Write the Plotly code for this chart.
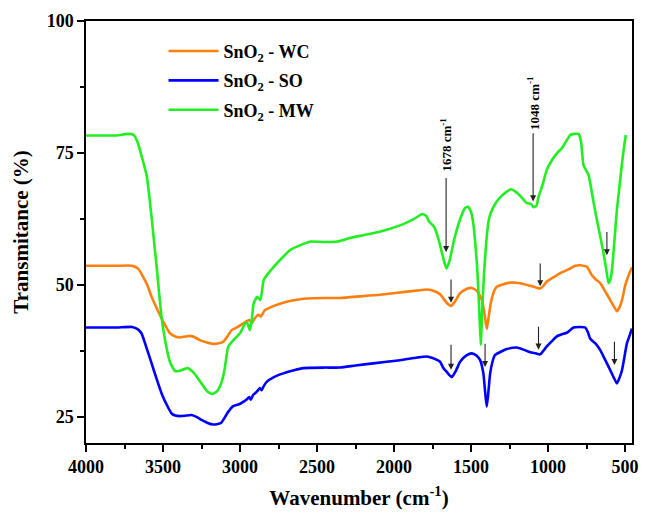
import plotly.graph_objects as go

# ---- data ----
mw_x = [4000, 3900, 3800, 3730, 3690, 3665, 3640, 3605, 3575, 3540, 3510, 3480, 3453, 3420, 3390, 3340, 3300,
        3250, 3210, 3180, 3150, 3120, 3100, 3076, 3040, 3000, 2965, 2950, 2937, 2925, 2911, 2889, 2868, 2846,
        2810, 2781, 2720, 2673, 2600, 2543, 2450, 2369, 2282, 2200, 2087, 1957, 1870, 1816, 1790, 1773, 1740,
        1710, 1680, 1660, 1640, 1610, 1570, 1540, 1520, 1500, 1485, 1470, 1458, 1445, 1437, 1428, 1415, 1400,
        1385, 1372, 1340, 1306, 1270, 1241, 1210, 1176, 1140, 1110, 1095, 1075, 1062, 1040, 1008, 975, 943,
        910, 880, 856, 830, 802, 785, 770, 737, 710, 683, 660, 640, 620, 607, 595, 585, 570, 553, 535, 520,
        505, 495]
mw_y = [78.3, 78.3, 78.3, 78.6, 78.4, 77.0, 74.5, 70.5, 63.0, 53.0, 44.0, 38.5, 35.2, 33.6, 33.7, 34.2, 33.3,
        31.3, 29.7, 29.3, 29.8, 31.5, 34.0, 38.3, 39.6, 40.8, 42.7, 42.6, 41.4, 43.0, 46.5, 47.7, 47.1, 50.9,
        52.4, 53.4, 55.3, 56.6, 57.6, 58.2, 58.1, 58.2, 58.9, 59.4, 60.1, 61.3, 62.5, 63.4, 63.0, 62.0, 61.0,
        58.5, 55.0, 53.1, 54.5, 58.5, 62.5, 64.5, 64.8, 63.8, 61.5, 57.0, 52.2, 44.0, 38.6, 45.0, 52.5, 58.5,
        62.3, 63.6, 65.5, 66.7, 67.6, 68.1, 67.6, 66.7, 65.5, 65.3, 64.7, 65.0, 66.7, 68.5, 71.8, 73.6, 74.9,
        75.9, 77.3, 78.4, 78.6, 78.6, 77.0, 72.7, 70.8, 66.5, 62.3, 59.0, 56.0, 52.5, 50.3, 51.0, 52.8, 58.0,
        64.2, 69.0, 73.0, 76.5, 78.4]

wc_x = [4000, 3900, 3800, 3700, 3660, 3629, 3600, 3574, 3540, 3509, 3480, 3455, 3420, 3390, 3355, 3326, 3290,
        3261, 3220, 3174, 3140, 3109, 3080, 3055, 3020, 2979, 2950, 2936, 2925, 2905, 2882, 2865, 2838, 2780,
        2719, 2640, 2567, 2450, 2351, 2220, 2091, 1917, 1850, 1788, 1750, 1701, 1680, 1655, 1630, 1605, 1571,
        1530, 1495, 1460, 1430, 1415, 1398, 1385, 1372, 1350, 1333, 1290, 1246, 1181, 1116, 1080, 1051, 1030,
        1008, 960, 921, 867, 824, 790, 748, 715, 690, 661, 630, 596, 575, 553, 535, 520, 500, 488, 470, 455]
wc_y = [53.6, 53.6, 53.6, 53.6, 53.0, 51.5, 49.8, 47.7, 45.5, 43.6, 42.0, 40.8, 40.2, 40.0, 40.2, 40.3, 40.0,
        39.5, 39.1, 38.8, 38.9, 39.2, 40.3, 41.4, 41.9, 42.7, 43.2, 43.3, 42.7, 43.6, 44.3, 44.0, 45.2, 46.0,
        46.6, 47.1, 47.4, 47.5, 47.5, 47.8, 48.1, 48.7, 48.9, 49.1, 48.9, 48.2, 47.4, 46.5, 46.0, 46.8, 48.4,
        49.2, 49.4, 48.8, 47.1, 45.0, 41.6, 44.0, 46.5, 48.8, 49.6, 50.1, 50.4, 50.3, 49.8, 49.5, 49.3, 49.8,
        50.6, 51.5, 52.2, 52.9, 53.6, 53.7, 53.4, 51.8, 51.0, 50.3, 48.8, 47.1, 46.0, 45.0, 45.8, 47.1, 49.8,
        50.9, 52.3, 53.3]

so_x = [4000, 3900, 3800, 3700, 3665, 3640, 3610, 3574, 3540, 3509, 3475, 3444, 3420, 3390, 3350, 3315, 3280,
        3250, 3210, 3174, 3145, 3120, 3100, 3077, 3044, 3010, 2979, 2955, 2940, 2930, 2915, 2892, 2871, 2860,
        2848, 2827, 2780, 2719, 2650, 2589, 2450, 2351, 2250, 2135, 1961, 1850, 1788, 1750, 1701, 1680, 1650,
        1625, 1600, 1571, 1530, 1495, 1465, 1441, 1420, 1408, 1398, 1388, 1376, 1360, 1344, 1300, 1268, 1203,
        1160, 1116, 1080, 1051, 1030, 1008, 975, 943, 910, 878, 835, 800, 759, 740, 727, 690, 661, 630, 596,
        575, 553, 537, 520, 500, 488, 470, 456]
so_y = [41.9, 41.9, 41.9, 42.0, 41.6, 40.8, 38.3, 35.1, 32.0, 29.4, 27.2, 25.6, 25.2, 25.1, 25.2, 25.3, 24.9,
        24.4, 23.8, 23.5, 23.6, 23.9, 24.8, 25.9, 27.0, 27.3, 27.8, 28.3, 28.7, 28.2, 29.1, 29.7, 30.4, 30.0,
        30.7, 31.6, 32.5, 33.2, 33.8, 34.2, 34.3, 34.3, 34.7, 35.1, 35.7, 36.2, 36.4, 36.1, 35.4, 34.2, 33.2,
        32.5, 33.6, 35.4, 36.6, 37.0, 36.6, 35.7, 33.2, 29.5, 26.9, 29.5, 33.2, 35.5, 36.7, 37.4, 37.8, 38.1,
        37.7, 37.2, 37.0, 36.8, 37.5, 38.3, 39.3, 40.2, 40.6, 40.9, 41.9, 42.0, 41.9, 40.9, 39.8, 38.8, 37.6,
        35.8, 33.8, 32.5, 31.3, 32.3, 33.8, 37.0, 38.9, 40.4, 41.7]

series_names = ["SnO<sub>2</sub> - WC", "SnO<sub>2</sub> - SO", "SnO<sub>2</sub> - MW"]
series_colors = ["#FF7F0E", "#0000FF", "#22EE22"]

# small arrows: tip (x, y) and tail y
arrow_x = [1662, 1097, 618, 1630, 1051, 1630, 1409, 1062, 569]
arrow_tip = [56.2, 65.8, 55.6, 46.6, 49.7, 33.9, 34.4, 37.7, 34.8]
arrow_tail = [70.5, 79.0, 60.3, 51.3, 54.3, 38.9, 39.1, 42.3, 39.5]

label_x = [1662, 1097]
label_y = [76.6, 84.5]
label_text = ["1678 cm<sup>-1</sup>", "1048 cm<sup>-1</sup>"]

FONT = "Liberation Serif"

fig = go.Figure()
for (xs, ys), name, col in zip([(wc_x, wc_y), (so_x, so_y), (mw_x, mw_y)], series_names, series_colors):
    fig.add_trace(go.Scatter(x=xs, y=ys, mode="lines", name=name, legendgroup=name,
                             line=dict(color=col, width=2.6, shape="spline", smoothing=0.5)))

annotations = []
for xa, yt, ya in zip(arrow_x, arrow_tip, arrow_tail):
    annotations.append(dict(x=xa, y=yt, ax=xa, ay=ya, xref="x", yref="y", axref="x", ayref="y",
                            text="", showarrow=True, arrowhead=2, arrowsize=1.1, arrowwidth=1.1,
                            arrowcolor="#222222", standoff=0, startstandoff=0))
for xl, yl, tl in zip(label_x, label_y, label_text):
    annotations.append(dict(x=xl, y=yl, xref="x", yref="y", text="<b>" + tl + "</b>", showarrow=False,
                            textangle=-90, xanchor="center", yanchor="middle",
                            font=dict(family=FONT, size=13, color="black")))

fig.update_layout(
    width=646, height=514,
    margin=dict(l=86, r=14, t=21, b=71, autoexpand=False),
    paper_bgcolor="white", plot_bgcolor="white",
    font=dict(family=FONT, color="black"),
    showlegend=True,
    legend=dict(x=0.142, y=0.972, xanchor="left", yanchor="top", bgcolor="rgba(0,0,0,0)",
                font=dict(family=FONT, size=18, color="black", weight="bold"),
                traceorder="grouped", tracegroupgap=3, itemwidth=50),
    annotations=annotations,
)
fig.update_xaxes(
    range=[4000, 455], tickmode="linear", tick0=0, dtick=500, automargin=False,
    ticks="outside", ticklen=7, tickwidth=1.5, tickcolor="black",
    minor=dict(ticks="outside", dtick=250, ticklen=4, tickwidth=1.5, tickcolor="black"),
    showline=True, linecolor="black", linewidth=1.5, mirror=True, showgrid=False, zeroline=False,
    tickfont=dict(family=FONT, size=18, color="black", weight="bold"),
    title=dict(text="<b>Wavenumber (cm<sup>-1</sup>)</b>", font=dict(family=FONT, size=21, color="black"),
               standoff=14),
)
fig.update_yaxes(
    range=[20, 100], tickmode="linear", tick0=0, dtick=25, automargin=False,
    ticks="outside", ticklen=7, tickwidth=1.5, tickcolor="black",
    minor=dict(ticks="outside", dtick=12.5, ticklen=4, tickwidth=1.5, tickcolor="black"),
    showline=True, linecolor="black", linewidth=1.5, mirror=True, showgrid=False, zeroline=False,
    tickfont=dict(family=FONT, size=18, color="black", weight="bold"),
    title=dict(text="<b>Transmitance (%)</b>", font=dict(family=FONT, size=21, color="black"), standoff=12),
)

fig.write_html("out.html", config={"displayModeBar": False},
               post_script="document.body.style.margin='0';document.body.style.padding='0';")
